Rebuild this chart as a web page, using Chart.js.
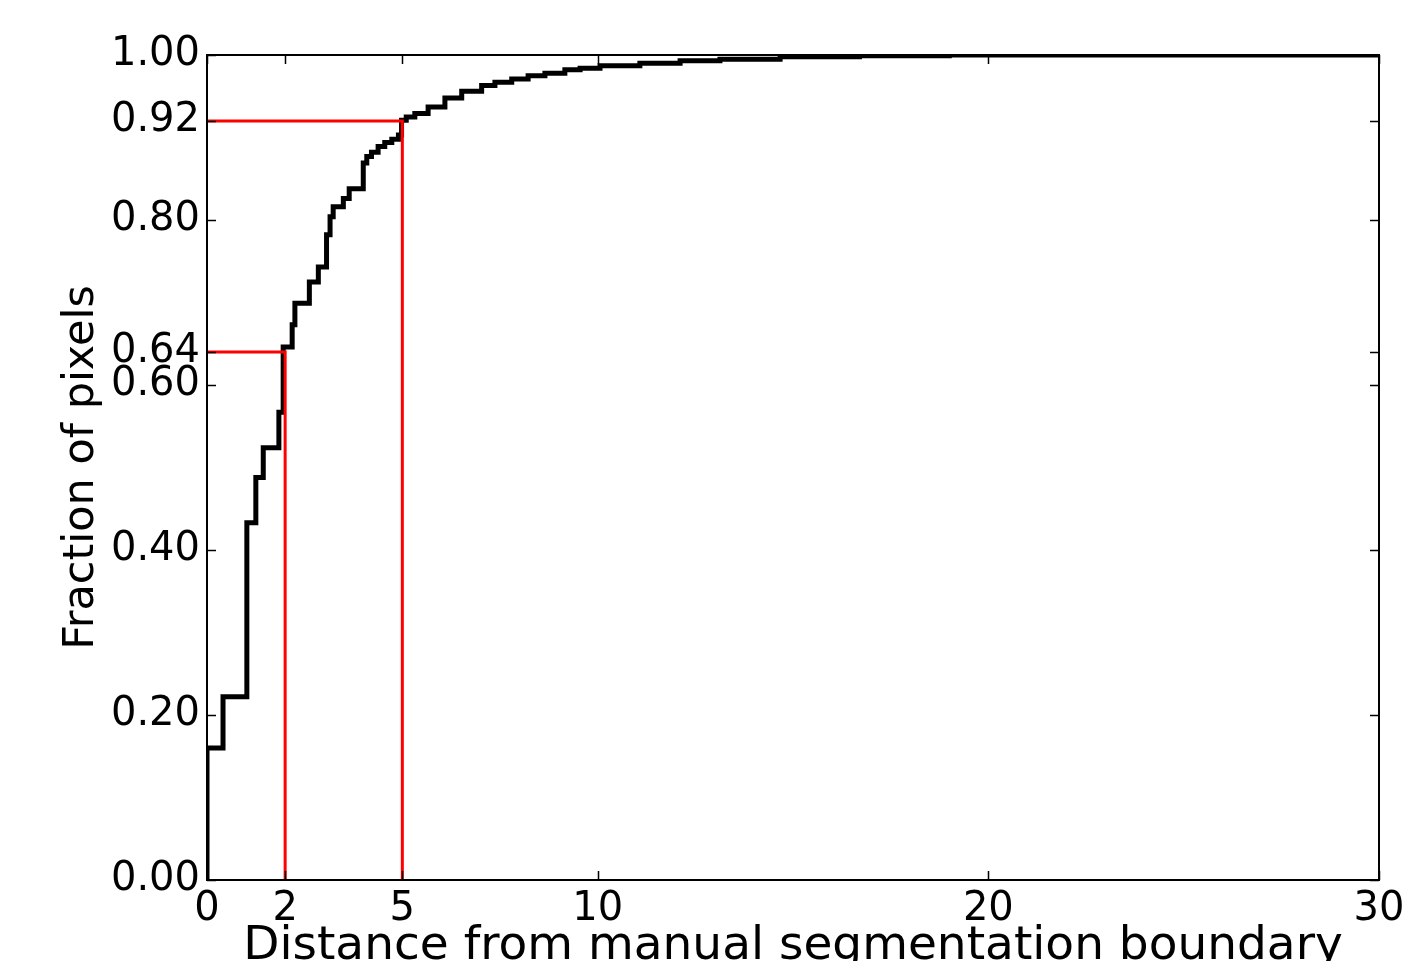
<!DOCTYPE html>
<html>
<head>
<meta charset="utf-8">
<script src="https://cdn.jsdelivr.net/npm/chart.js@4/dist/chart.umd.min.js"></script>
<style>
  html, body { margin: 0; padding: 0; background: #fff; overflow: hidden; }
  canvas { display: block; }
</style>
</head>
<body>
<canvas id="cdf" width="1423" height="980"></canvas>
<script>
// cumulative fraction of pixels vs distance (step curve, value holds until next x)
const cdfX = [0, 0, 0.41, 1.02, 1.25, 1.44, 1.84, 1.95, 2.18, 2.25, 2.62, 2.85, 3.06, 3.15, 3.23,
  3.49, 3.64, 4.0, 4.09, 4.21, 4.38, 4.55, 4.73, 4.90, 4.98, 5.1, 5.32, 5.66, 6.09, 6.52, 7.03,
  7.37, 7.80, 8.22, 8.65, 9.16, 9.55, 10.06, 11.08, 12.11, 13.13, 14.67, 16.7, 19, 30];
const cdfY = [0, 0.16, 0.222, 0.433, 0.488, 0.524, 0.567, 0.646, 0.673, 0.699, 0.725, 0.743, 0.782,
  0.804, 0.816, 0.826, 0.838, 0.869, 0.877, 0.882, 0.889, 0.894, 0.898, 0.903, 0.921, 0.925, 0.929,
  0.937, 0.948, 0.956, 0.963, 0.967, 0.971, 0.975, 0.978, 0.982, 0.984, 0.987, 0.990, 0.993, 0.995,
  0.998, 0.999, 1.0, 1.0];

// red reference markers
const mark2X = [0, 2, 2];
const mark2Y = [0.64, 0.64, 0];
const mark5X = [0, 5, 5];
const mark5Y = [0.92, 0.92, 0];

const xTicks = [0, 2, 5, 10, 20, 30];
const yTicks = [0, 0.2, 0.4, 0.6, 0.64, 0.8, 0.92, 1.0];

const FONT = 'DejaVu Sans';
const toPoints = (xs, ys) => xs.map((x, i) => ({ x: x, y: ys[i] }));

// matplotlib-like frame with inward ticks on all four sides
const framePlugin = {
  id: 'frame',
  afterDatasetsDraw(chart) {
    const { ctx, chartArea: a, scales } = chart;
    ctx.save();
    ctx.strokeStyle = '#000';
    ctx.lineWidth = 1.5;
    const tl = 9;
    ctx.beginPath();
    xTicks.forEach(v => {
      const px = Math.round(scales.x.getPixelForValue(v)) + 0.5;
      ctx.moveTo(px, a.bottom); ctx.lineTo(px, a.bottom - tl);
      ctx.moveTo(px, a.top); ctx.lineTo(px, a.top + tl);
    });
    yTicks.forEach(v => {
      const py = Math.round(scales.y.getPixelForValue(v)) + 0.5;
      ctx.moveTo(a.left, py); ctx.lineTo(a.left + tl, py);
      ctx.moveTo(a.right, py); ctx.lineTo(a.right - tl, py);
    });
    ctx.stroke();
    ctx.lineWidth = 2;
    ctx.strokeRect(a.left, a.top, a.right - a.left, a.bottom - a.top);
    ctx.restore();
  }
};

new Chart(document.getElementById('cdf'), {
  type: 'line',
  data: {
    datasets: [
      {
        data: toPoints(mark2X, mark2Y),
        borderColor: '#ff0000',
        borderWidth: 3,
        pointRadius: 0,
        clip: 0,
        order: 0
      },
      {
        data: toPoints(mark5X, mark5Y),
        borderColor: '#ff0000',
        borderWidth: 3,
        pointRadius: 0,
        clip: 0,
        order: 0
      },
      {
        data: toPoints(cdfX, cdfY),
        borderColor: '#000000',
        borderWidth: 5,
        stepped: 'before',
        pointRadius: 0,
        clip: 0,
        order: 1
      }
    ]
  },
  options: {
    responsive: false,
    animation: false,
    layout: { padding: { top: 55, right: 44, left: 0, bottom: 0 } },
    plugins: { legend: { display: false }, tooltip: { enabled: false } },
    scales: {
      x: {
        type: 'linear',
        min: 0,
        max: 30,
        afterBuildTicks(scale) { scale.ticks = xTicks.map(v => ({ value: v })); },
        afterFit(scale) { scale.height = 100; },
        grid: { display: false, drawTicks: false },
        border: { display: false },
        ticks: {
          color: '#000',
          padding: 6,
          maxRotation: 0,
          autoSkip: false,
          font: { family: FONT, size: 40 },
          callback: v => String(v)
        },
        title: {
          display: true,
          text: 'Distance from manual segmentation boundary',
          color: '#000',
          font: { family: FONT, size: 47 },
          padding: { top: 0, bottom: 5 }
        }
      },
      y: {
        type: 'linear',
        min: 0,
        max: 1,
        afterBuildTicks(scale) { scale.ticks = yTicks.map(v => ({ value: v })); },
        afterFit(scale) { scale.width = 207; },
        grid: { display: false, drawTicks: false },
        border: { display: false },
        ticks: {
          color: '#000',
          padding: 7,
          autoSkip: false,
          font: { family: FONT, size: 40 },
          callback: v => v.toFixed(2)
        },
        title: {
          display: true,
          text: 'Fraction of pixels',
          color: '#000',
          font: { family: FONT, size: 43 },
          padding: { top: 56, bottom: 0 }
        }
      }
    }
  },
  plugins: [framePlugin]
});
</script>
</body>
</html>
